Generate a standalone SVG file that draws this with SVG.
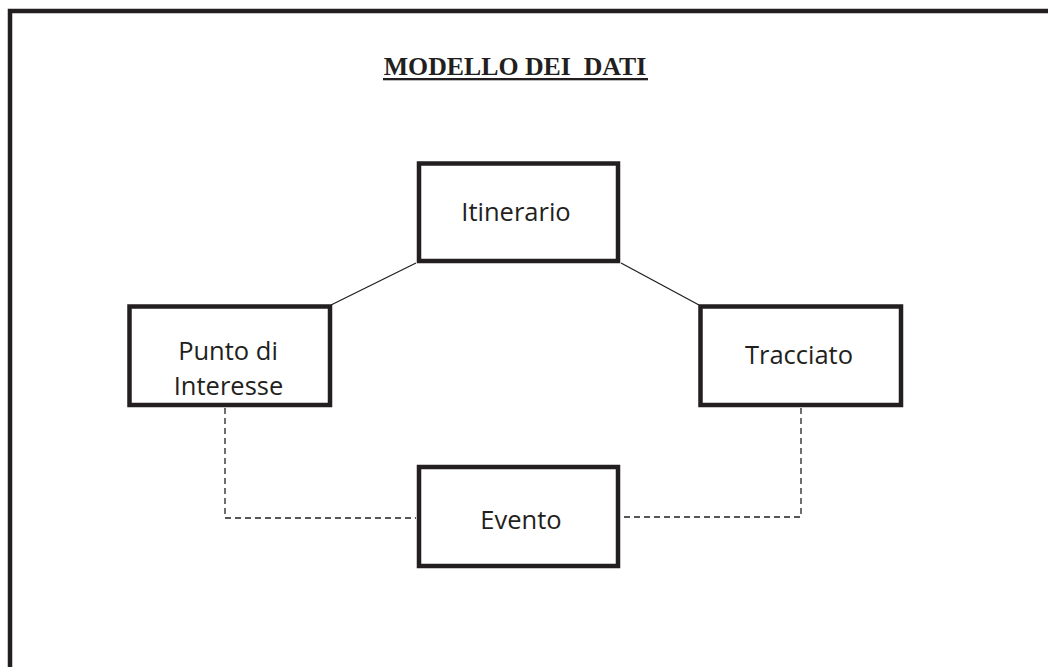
<svg xmlns="http://www.w3.org/2000/svg" width="1048" height="667" viewBox="0 0 1048 667">
<style>
.box{fill:#fff;stroke:#231f20;stroke-width:4.5}
.lbl{font-family:"Open Sans","Noto Sans",sans-serif;font-size:25.5px;fill:#231f20;text-anchor:middle}
.solid{stroke:#231f20;stroke-width:1.3;fill:none}
.dash{stroke:#231f20;stroke-width:1.3;fill:none;stroke-dasharray:6 4}
</style>
<rect x="0" y="0" width="1048" height="667" fill="#fff"/>
<g id="frame">
<path d="M10 667 V11 H1048" fill="none" stroke="#231f20" stroke-width="4.5"/>
</g>
<g id="title">
<text x="515" y="75" xml:space="preserve" font-family="'Liberation Serif','Times New Roman',serif" font-weight="bold" font-size="25.8" fill="#231f20" text-anchor="middle">MODELLO DEI  DATI</text>
<rect x="383" y="78" width="265" height="2.3" fill="#231f20"/>
</g>
<g id="connectors">
<line class="solid" x1="416" y1="263" x2="331" y2="305"/>
<line class="solid" x1="621" y1="263" x2="699" y2="305"/>
<path class="dash" d="M225 408 V518 H416"/>
<path class="dash" d="M801 408 V517 H621"/>
</g>
<g id="itinerario">
<rect class="box" x="419" y="163.5" width="199" height="97.5"/>
<text class="lbl" x="516" y="221">Itinerario</text>
</g>
<g id="punto">
<rect class="box" x="129.5" y="306.5" width="200.5" height="98.5"/>
<text class="lbl" x="228" y="360">Punto di</text>
<text class="lbl" x="228.5" y="395">Interesse</text>
</g>
<g id="tracciato">
<rect class="box" x="700.5" y="306.5" width="200.5" height="98.5"/>
<text class="lbl" x="799" y="364">Tracciato</text>
</g>
<g id="evento">
<rect class="box" x="419" y="467" width="199" height="99"/>
<text class="lbl" x="521" y="529">Evento</text>
</g>
</svg>
